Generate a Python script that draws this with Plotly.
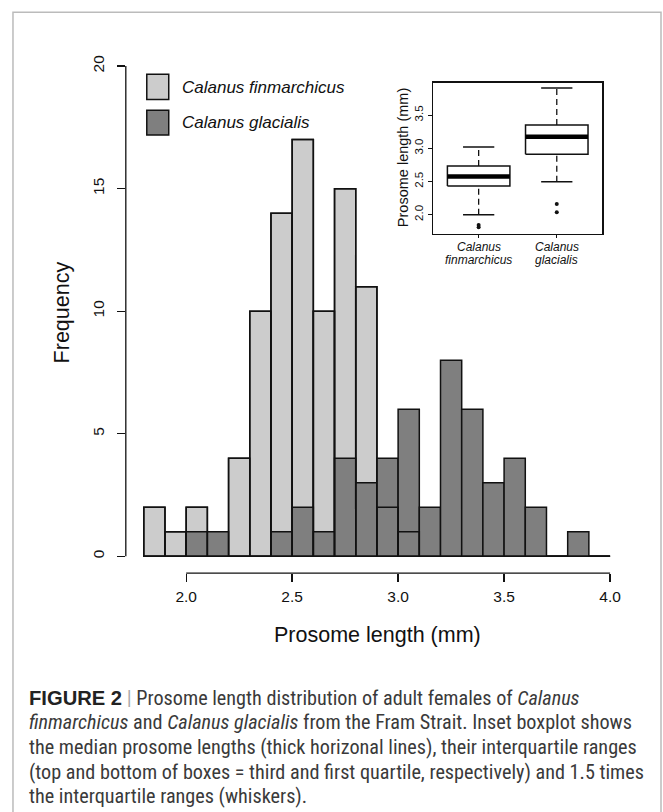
import plotly.graph_objects as go

# ---------------- data ----------------
bin_left = [1.8, 1.9, 2.0, 2.1, 2.2, 2.3, 2.4, 2.5, 2.6, 2.7, 2.8, 2.9, 3.0,
            3.1, 3.2, 3.3, 3.4, 3.5, 3.6, 3.7, 3.8, 3.9]
bin_width = 0.1
fin_counts = [2, 1, 2, 0, 4, 10, 14, 17, 10, 15, 11, 2, 1,
              0, 0, 0, 0, 0, 0, 0, 0, 0]
gla_counts = [0, 0, 1, 1, 0, 0, 1, 2, 1, 4, 3, 4, 6,
              2, 8, 6, 3, 4, 2, 0, 1, 0]
x_ticks = [2.0, 2.5, 3.0, 3.5, 4.0]
x_ticktext = ["2.0", "2.5", "3.0", "3.5", "4.0"]
y_ticks = [0, 5, 10, 15, 20]

species = ["Calanus finmarchicus", "Calanus glacialis"]
box_q1 = [2.43, 2.91]
box_median = [2.575, 3.175]
box_q3 = [2.735, 3.35]
box_low = [2.0, 2.495]
box_high = [3.02, 3.91]
box_outliers = [[1.81, 1.845], [2.036, 2.16]]
inset_yticks = [2.0, 2.5, 3.0, 3.5]
inset_yticktext = ["2.0", "2.5", "3.0", "3.5"]

light = "#cccccc"
dark = "#7f7f7f"
font_main = "Liberation Sans, Arial, Helvetica, sans-serif"

W, H = 663, 812
def px(x):
    return x / W
def py(y):
    return 1 - y / H

centers = [b + bin_width / 2 for b in bin_left]

fig = go.Figure()
# light histogram
fig.add_trace(go.Bar(x=centers, y=fin_counts, width=bin_width,
                     marker=dict(color=light, line=dict(color="#111", width=1.5)),
                     showlegend=False, xaxis="x", yaxis="y"))
# dark histogram
fig.add_trace(go.Bar(x=centers, y=gla_counts, width=bin_width,
                     marker=dict(color=dark, line=dict(color="#111", width=1.5)),
                     showlegend=False, xaxis="x", yaxis="y"))
# light outlines on top
fig.add_trace(go.Bar(x=centers, y=fin_counts, width=bin_width,
                     marker=dict(color="rgba(0,0,0,0)", line=dict(color="#111", width=1.5)),
                     showlegend=False, xaxis="x", yaxis="y"))

# ---------------- inset boxplot ----------------
half = 0.4
for i, name in enumerate(species):
    p = i + 1
    # whiskers (dashed)
    fig.add_trace(go.Scatter(x=[p, p], y=[box_q3[i], box_high[i]], mode="lines",
                             line=dict(color="#111", width=1.3, dash="6px,4px"),
                             showlegend=False, xaxis="x2", yaxis="y2"))
    fig.add_trace(go.Scatter(x=[p, p], y=[box_low[i], box_q1[i]], mode="lines",
                             line=dict(color="#111", width=1.3, dash="6px,4px"),
                             showlegend=False, xaxis="x2", yaxis="y2"))
    # caps
    for v in (box_low[i], box_high[i]):
        fig.add_trace(go.Scatter(x=[p - half / 2, p + half / 2], y=[v, v], mode="lines",
                                 line=dict(color="#111", width=1.5),
                                 showlegend=False, xaxis="x2", yaxis="y2"))
    # box
    fig.add_trace(go.Scatter(x=[p - half, p + half, p + half, p - half, p - half],
                             y=[box_q1[i], box_q1[i], box_q3[i], box_q3[i], box_q1[i]],
                             mode="lines", fill="toself", fillcolor="white",
                             line=dict(color="#111", width=1.5),
                             showlegend=False, xaxis="x2", yaxis="y2"))
    # median
    fig.add_trace(go.Scatter(x=[p - half, p + half], y=[box_median[i], box_median[i]],
                             mode="lines", line=dict(color="#000", width=4.5),
                             showlegend=False, xaxis="x2", yaxis="y2"))
    # outliers
    fig.add_trace(go.Scatter(x=[p] * len(box_outliers[i]), y=box_outliers[i], mode="markers",
                             marker=dict(color="#111", size=4),
                             showlegend=False, xaxis="x2", yaxis="y2"))

# ---------------- layout ----------------
x0_px, x1_px = 126, 621.6
fig.update_layout(
    width=W, height=H, autosize=False,
    margin=dict(l=0, r=0, t=0, b=0),
    paper_bgcolor="white", plot_bgcolor="rgba(0,0,0,0)",
    barmode="overlay", bargap=0, hovermode=False,
    font=dict(family=font_main, color="#111"),
    xaxis=dict(domain=[px(x0_px), px(x1_px)], range=[1.7152, 4.05],
               tickvals=x_ticks, ticktext=x_ticktext, ticks="outside", ticklen=8,
               tickwidth=1.3, tickcolor="#111", showline=False, showgrid=False,
               zeroline=False, tickfont=dict(size=15.5), ticklabelstandoff=1,
               anchor="y", fixedrange=True),
    yaxis=dict(domain=[py(572), py(55)], range=[-0.69, 20.3],
               tickvals=y_ticks, ticks="outside", ticklen=8, tickwidth=1.3,
               tickcolor="#111", showline=False, showgrid=False, zeroline=False,
               tickangle=-90, tickfont=dict(size=15.5), ticklabelstandoff=7,
               anchor="x", fixedrange=True),
    xaxis2=dict(domain=[px(434), px(603)], range=[0.42, 2.58],
                tickvals=[1, 2], showticklabels=False, ticks="outside", ticklen=3,
                tickcolor="#111", showline=True, mirror=True, linecolor="#111",
                linewidth=1.5, showgrid=False, zeroline=False, anchor="y2",
                fixedrange=True),
    yaxis2=dict(domain=[py(230.7), py(79)], range=[1.715, 3.99],
                tickvals=inset_yticks, ticktext=inset_yticktext, ticks="outside",
                ticklen=4, tickcolor="#111", showline=True, mirror=True,
                linecolor="#111", linewidth=1.5, showgrid=False, zeroline=False,
                tickangle=-90, tickfont=dict(size=11.5), ticklabelstandoff=0,
                anchor="x2", fixedrange=True),
)

shapes = []
# R-style detached axis lines
shapes.append(dict(type="line", xref="x", yref="y domain", x0=x_ticks[0], x1=x_ticks[-1],
                   y0=0, y1=0, line=dict(color="#111", width=1.3)))
shapes.append(dict(type="line", xref="x domain", yref="y", x0=0, x1=0,
                   y0=y_ticks[0], y1=y_ticks[-1], line=dict(color="#111", width=1.3)))
# histogram baseline
shapes.append(dict(type="line", xref="x", yref="y", x0=bin_left[0], x1=bin_left[-1] + bin_width,
                   y0=0, y1=0, line=dict(color="#111", width=1.5), layer="below"))
# legend swatches
shapes.append(dict(type="rect", xref="paper", yref="paper", x0=px(147), x1=px(169),
                   y0=py(96), y1=py(70.7), fillcolor=light, line=dict(color="#111", width=1.5)))
shapes.append(dict(type="rect", xref="paper", yref="paper", x0=px(147), x1=px(169),
                   y0=py(131.7), y1=py(106.7), fillcolor=dark, line=dict(color="#111", width=1.5)))
# outer frame
shapes.append(dict(type="rect", xref="paper", yref="paper", x0=px(13), x1=px(662),
                   y0=-0.02, y1=py(8.3), line=dict(color="#bbbbbb", width=1.5)))
fig.update_layout(shapes=shapes)

def A(text, x, y, xref="paper", yref="paper", xanchor="center", yanchor="middle", **kw):
    d = dict(text=text, xref=xref, yref=yref, x=x, y=y, xanchor=xanchor,
             yanchor=yanchor, showarrow=False)
    d.update(kw)
    return d

ann = []
ann.append(A("<i>" + species[0] + "</i>", px(180), py(84), xanchor="left", font=dict(size=17)))
ann.append(A("<i>" + species[1] + "</i>", px(180), py(119.3), xanchor="left", font=dict(size=17)))
ann.append(A("Frequency", px(63), py(310), textangle=-90, font=dict(size=21.5)))
ann.append(A("Prosome length (mm)", px(378.5), py(634), font=dict(size=21.5)))
ann.append(A("Prosome length (mm)", px(403), py(154.5), textangle=-90, font=dict(size=14.5)))
for i, name in enumerate(species):
    w1, w2 = name.split(" ")
    ann.append(A("<i>" + w1 + "</i>", i + 1, py(244), xref="x2", font=dict(size=12)))
    ann.append(A("<i>" + w2 + "</i>", i + 1, py(257), xref="x2", font=dict(size=12)))

cap_font = "Liberation Sans Narrow, Roboto Condensed, Arial Narrow, sans-serif"
caption = [
    "<span style='font-family:Liberation Sans, Arial;font-weight:bold;color:#222'>FIGURE 2</span> "
    "<span style='color:#aaa'>|</span> Prosome length distribution of adult females of <i>Calanus</i>",
    "<i>finmarchicus</i> and <i>Calanus glacialis</i> from the Fram Strait. Inset boxplot shows",
    "the median prosome lengths (thick horizonal lines), their interquartile ranges",
    "(top and bottom of boxes = third and first quartile, respectively) and 1.5 times",
    "the interquartile ranges (whiskers).",
]
cap_y = [697, 722, 747, 771.5, 796]
for t, yy in zip(caption, cap_y):
    ann.append(A(t, px(27.5), py(yy), xanchor="left",
                 font=dict(size=20.2, family=cap_font, color="#3a3a3a")))
fig.update_layout(annotations=ann)

fig.write_html("out.html", config={"displayModeBar": False, "staticPlot": True},
               post_script="document.body.style.margin='0px';")
